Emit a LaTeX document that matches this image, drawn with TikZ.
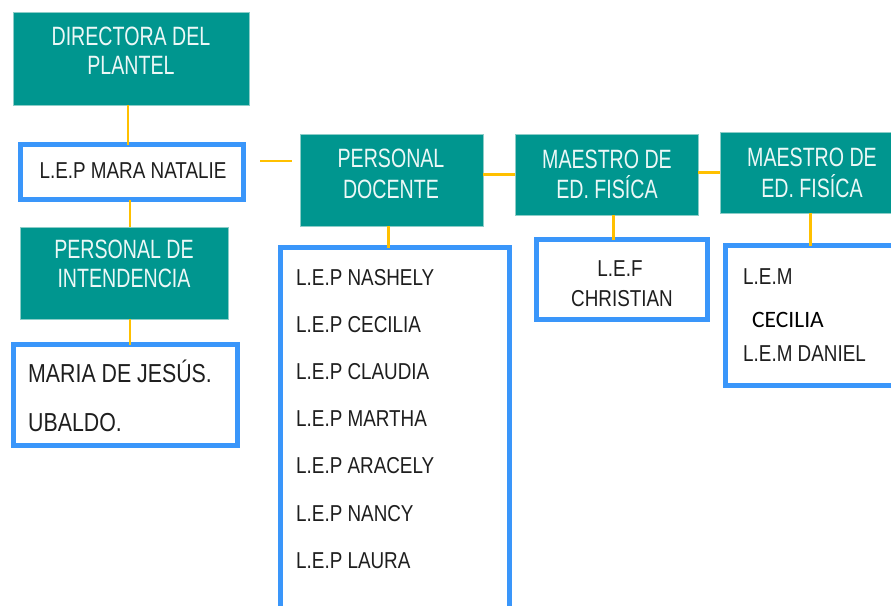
\documentclass[tikz,border=0pt]{standalone}
\usepackage{fontspec}
\setmainfont{Liberation Sans}[FakeStretch=0.82]
\newfontfamily\tealfam{Liberation Sans}[FakeStretch=0.74]
\newfontfamily\calfam{Carlito}
\definecolor{tealbox}{RGB}{0,150,143}
\definecolor{tealedge}{RGB}{140,205,200}
\definecolor{bluebox}{RGB}{58,150,250}
\definecolor{goldline}{RGB}{255,192,0}
\definecolor{nametext}{RGB}{30,30,30}
\definecolor{tealtext}{RGB}{236,248,247}
\begin{document}
\begin{tikzpicture}[x=1pt,y=-1pt,
  tealnode/.style={rectangle,fill=tealbox,draw=tealedge,line width=0.8pt,inner sep=0pt,outer sep=0pt},
  bluenode/.style={rectangle,draw=bluebox,fill=white,line width=5pt,inner sep=0pt,outer sep=0pt},
  ttext/.style={anchor=base,inner sep=0pt,text=tealtext,font=\tealfam\fontsize{26.5}{30}\selectfont},
  ntext/.style={anchor=base west,inner sep=0pt,text=nametext,font=\fontsize{23}{28}\selectfont},
  nctext/.style={anchor=base,inner sep=0pt,text=nametext,font=\fontsize{23}{28}\selectfont},
  conn/.style={draw=goldline,line width=2.5pt}]
\useasboundingbox[fill=white] (0,0) rectangle (891,605);
% teal boxes
\node[tealnode,minimum width=236pt,minimum height=93pt] (dir) at (131,58.5) {};
\node[tealnode,minimum width=208pt,minimum height=92pt] (int) at (124,273) {};
\node[tealnode,minimum width=183pt,minimum height=92pt] (doc) at (391.5,180) {};
\node[tealnode,minimum width=183pt,minimum height=81pt] (mone) at (606.5,174.5) {};
\node[tealnode,minimum width=185pt,minimum height=81pt] (mtwo) at (812.5,172.5) {};
% blue boxes
\node[bluenode,minimum width=223pt,minimum height=55pt] (mara) at (132,172) {};
\node[bluenode,minimum width=224pt,minimum height=101pt] (maria) at (125.5,395) {};
\node[bluenode,minimum width=229pt,minimum height=390pt] (list) at (395,442.5) {};
\node[bluenode,minimum width=171pt,minimum height=80pt] (chr) at (622,279.5) {};
\node[bluenode,minimum width=192pt,minimum height=140pt] (lem) at (821.5,315.5) {};
% teal texts
\node[ttext] (dirA) at (131,45.5) {DIRECTORA DEL};
\node[ttext] (dirB) at (131,74.5) {PLANTEL};
\node[ttext] (intA) at (124,258.5) {PERSONAL DE};
\node[ttext] (intB) at (124,287.5) {INTENDENCIA};
\node[ttext] (docA) at (391,167.5) {PERSONAL};
\node[ttext] (docB) at (391,198.5) {DOCENTE};
\node[ttext] (moneA) at (607,168.5) {MAESTRO DE};
\node[ttext] (moneB) at (607,198.5) {ED. FISÍCA};
\node[ttext] (mtwoA) at (812,166.5) {MAESTRO DE};
\node[ttext] (mtwoB) at (812,197.5) {ED. FISÍCA};
% name texts
\node[nctext] (maraT) at (133,178) {L.E.P MARA NATALIE};
\node[ntext,font=\fontsize{26}{30}\selectfont] (mariaA) at (28,382) {MARIA DE JESÚS.};
\node[ntext,font=\fontsize{26}{30}\selectfont] (mariaB) at (28,431) {UBALDO.};
\node[ntext] (l1) at (296,285) {L.E.P NASHELY};
\node[ntext] (l2) at (296,332) {L.E.P CECILIA};
\node[ntext] (l3) at (296,379) {L.E.P CLAUDIA};
\node[ntext] (l4) at (296,426) {L.E.P MARTHA};
\node[ntext] (l5) at (296,473) {L.E.P ARACELY};
\node[ntext] (l6) at (296,521) {L.E.P NANCY};
\node[ntext] (l7) at (296,568) {L.E.P LAURA};
\node[nctext] (chrA) at (620,276) {L.E.F};
\node[nctext] (chrB) at (622,306) {CHRISTIAN};
\node[ntext] (lemA) at (743,284) {L.E.M};
\node[ntext,font=\calfam\fontsize{23.5}{26}\selectfont,text=black] (lemB) at (752,327) {CECILIA};
\node[ntext] (lemC) at (743,361) {L.E.M DANIEL};
% connectors
\coordinate (hA) at (260,161);
\coordinate (hB) at (292,161);
\draw[conn] ([xshift=-3pt]dir.south) -- ([xshift=-3pt]dir.south |- mara.north);
\draw[conn] ([xshift=-2pt]mara.south) -- ([xshift=-2pt]mara.south |- int.north);
\draw[conn] ([xshift=6pt]int.south) -- ([xshift=6pt]int.south |- maria.north);
\draw[conn] (hA) -- (hB);
\draw[conn] (doc.east |- mone.west) -- (mone.west);
\draw[conn] (mone.east |- mtwo.west) -- (mtwo.west);
\draw[conn] ([xshift=-3pt]doc.south) -- ([xshift=-3pt]doc.south |- list.north);
\draw[conn] ([xshift=7pt]mone.south) -- ([xshift=7pt]mone.south |- chr.north);
\draw[conn] ([xshift=-2pt]mtwo.south) -- ([xshift=-2pt]mtwo.south |- lem.north);
\end{tikzpicture}
\end{document}
